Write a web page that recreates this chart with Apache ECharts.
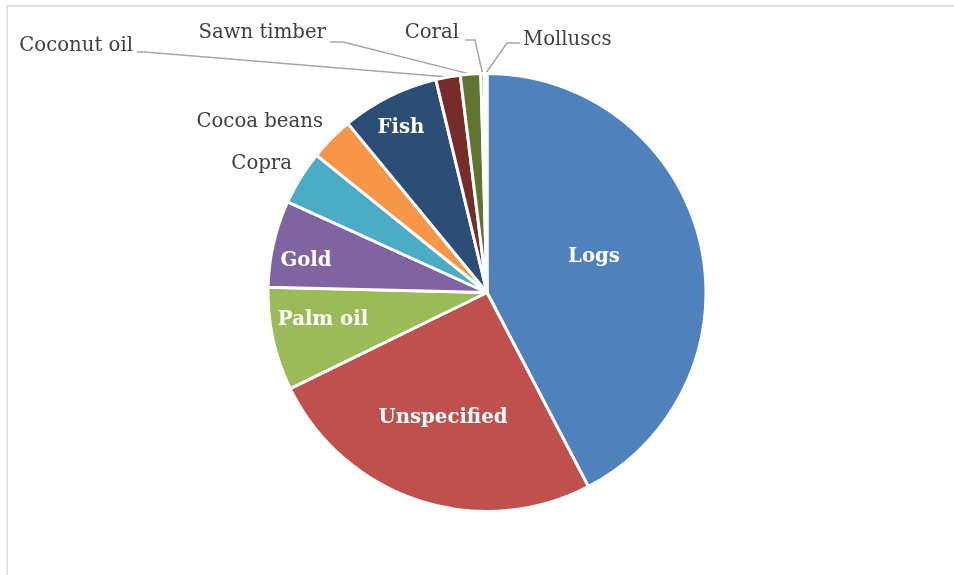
<!DOCTYPE html>
<html><head><meta charset="utf-8">
<script src="https://cdn.jsdelivr.net/npm/echarts@6/dist/echarts.min.js"></script>
<style>html,body{margin:0;padding:0;background:#fff}#c{width:954px;height:575px}</style>
</head><body><div id="c"></div>
<script>
const categories = ['Logs','Unspecified','Palm oil','Gold','Copra','Cocoa beans','Fish','Coconut oil','Sawn timber','Coral','Molluscs'];
const values = [42.3, 25.4, 7.6, 6.4, 4.0, 3.25, 7.2, 1.8, 1.5, 0.25, 0.2];
const colors = ['#4F81BD','#C0504D','#9BBB59','#8064A2','#4BACC6','#F79646','#2C4D75','#772C2A','#5F7530','#4D3B62','#276A7C'];
const insideLabel = [true,true,true,true,false,false,true,false,false,false,false];

// label layout (pixels): [x, y, align], and leader knee points
const CX = 487, CY = 292.5, R = 219;
const labelPos = [
  [594,257,'center'],[443,418,'center'],[323,320,'center'],[306,261,'center'],
  [292,164,'right'],[323,122,'right'],[401,128,'center'],
  [133,46,'right'],[326,33,'right'],[459,33,'right'],[523,40,'left']
];
const leaders = {7:[[145,52],[137,52]], 8:[[343,42],[330,42]], 9:[[475,40],[465,40]], 10:[[507,43],[520,43]]};

const total = values.reduce((a,b)=>a+b,0);
const midAngles = [];
let acc = 0;
values.forEach(v=>{ midAngles.push((acc + v/2)/total*2*Math.PI); acc += v; });

const chart = echarts.init(document.getElementById('c'));
chart.setOption({
  animation:false,
  graphic:[{type:'rect',shape:{x:7,y:6,width:1000,height:700},style:{fill:'none',stroke:'#D9D9D9',lineWidth:1.5},silent:true}],
  series:[{
    type:'pie',
    center:[CX,CY], radius:R,
    startAngle:90, clockwise:true, avoidLabelOverlap:false,
    itemStyle:{borderColor:'#fff',borderWidth:3},
    label:{show:true,position:'outside',fontFamily:'DejaVu Serif',fontSize:19.7,color:'#404040'},
    labelLine:{show:false,lineStyle:{color:'#A6A6A6',width:1.5}},
    data: categories.map((n,i)=>({
      name:n, value:values[i], itemStyle:{color:colors[i]},
      label: insideLabel[i] ? {position:'inside',color:'#fff',fontWeight:'bold',fontSize:19.7} : {},
      labelLine:{show: leaders[i] !== undefined}
    })),
    labelLayout: function(p){
      const i = p.dataIndex;
      const lp = labelPos[i];
      const res = {x:lp[0], y:lp[1], align:lp[2], verticalAlign:'middle', hideOverlap:false};
      if (leaders[i]) {
        const a = midAngles[i];
        const rim = [CX + R*Math.sin(a), CY - R*Math.cos(a)];
        res.labelLinePoints = [rim, leaders[i][0], leaders[i][1]];
      }
      return res;
    }
  }]
});
</script></body></html>
